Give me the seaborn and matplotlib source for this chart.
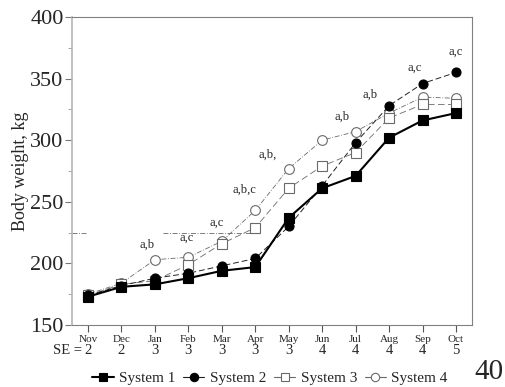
import matplotlib
matplotlib.use("Agg")
import matplotlib.pyplot as plt
from matplotlib.lines import Line2D
import seaborn as sns
import pandas as pd

# Data
months = ["Nov", "Dec", "Jan", "Feb", "Mar", "Apr", "May", "Jun", "Jul", "Aug", "Sep", "Oct"]
se_values = ["2", "2", "3", "3", "3", "3", "3", "4", "4", "4", "4", "5"]
system1 = [173, 181, 183, 188, 194, 197, 237, 261, 271, 302, 316, 322]
system2 = [174, 182, 188, 192, 198, 204, 230, 263, 298, 328, 346, 355]
system3 = [174, 183, 186, 199, 216, 229, 261, 279, 290, 318, 329, 329]
system4 = [175, 184, 203, 205, 218, 243, 277, 300, 307, 322, 335, 334]

# significance letters (text centre, in month-index / kg units)
ann_text = ["a,b", "a,c", "a,c", "a,b,c", "a,b,", "a,b", "a,b", "a,c", "a,c"]
ann_x = [1.77, 2.96, 3.86, 4.67, 5.36, 7.60, 8.44, 9.76, 10.99]
ann_y = [215, 221, 233, 260, 288, 319, 337, 359, 372]

# stray scan line in the original figure
stray_y = 225
stray_spans = [(-0.48, -0.05), (2.24, 5.1)]

sns.set_style("ticks")
plt.rcParams['font.family'] = ['Liberation Serif', 'DejaVu Serif']

df = pd.DataFrame({
    'idx': list(range(len(months))) * 4,
    'weight': system1 + system2 + system3 + system4,
    'system': (['System 1'] * 12 + ['System 2'] * 12 + ['System 3'] * 12 + ['System 4'] * 12),
})

styles = {
    'System 1': dict(color='black', lw=1.5, ls='-', marker='s', mfc='black', mec='black', ms=6.5),
    'System 2': dict(color='#222222', lw=0.7, ls=(0, (6, 3)), marker='o', mfc='black', mec='black', ms=6.5),
    'System 3': dict(color='#6a6a6a', lw=0.6, ls=(0, (8, 4)), marker='s', mfc='white', mec='#6a6a6a', ms=6.5),
    'System 4': dict(color='#6a6a6a', lw=0.6, ls=(0, (6, 2, 1, 2)), marker='o', mfc='white', mec='#6a6a6a', ms=7),
}

fig = plt.figure(figsize=(5.06, 3.87), dpi=100)
ax = fig.add_axes([72 / 506, 1 - 325 / 387, 400 / 506, 308 / 387])

for name in ['System 4', 'System 3', 'System 2', 'System 1']:
    st = styles[name]
    sub = df[df['system'] == name]
    sns.lineplot(data=sub, x='idx', y='weight', ax=ax, color=st['color'],
                 linewidth=st['lw'], linestyle=st['ls'], marker=st['marker'],
                 markerfacecolor=st['mfc'], markeredgecolor=st['mec'],
                 markersize=st['ms'], markeredgewidth=0.8, legend=False)

for x0, x1 in stray_spans:
    ax.hlines(stray_y, x0, x1, colors='#666666', linewidth=0.6, linestyles=(0, (6, 2, 1, 2)))

for t, x, y in zip(ann_text, ann_x, ann_y):
    ax.text(x, y, t, ha='center', va='center', fontsize=9)

ax.set_xlim(-0.48, 11.48)
ax.set_ylim(150, 400)
ax.set_yticks([150, 200, 250, 300, 350, 400])
ax.set_yticks([175, 225, 275, 325, 375], minor=True)
ax.set_xticks(range(len(months)))
ax.set_xticklabels(months, fontsize=8)
ax.tick_params(axis='y', labelsize=16, length=5, width=0.8, color='#777777', pad=1)
ax.tick_params(axis='y', which='minor', length=3, width=0.6, color='#999999')
ax.tick_params(axis='x', length=5, width=0.8, color='#555555', pad=2)
ax.set_xlabel('')
ax.set_ylabel('Body weight, kg', fontsize=13, labelpad=1)

for side in ['top', 'right', 'bottom']:
    ax.spines[side].set_color('#808080')
    ax.spines[side].set_linewidth(0.8)
ax.spines['left'].set_color('#b5b5b5')
ax.spines['left'].set_linewidth(1.2)

# SE row under month labels
for i, se in enumerate(se_values):
    ax.text(i, -0.082, se, transform=ax.get_xaxis_transform(), ha='center', va='center', fontsize=10.5)
ax.text(-0.17, -0.082, 'SE =', transform=ax.get_xaxis_transform(), ha='right', va='center', fontsize=10.5)

handles = [Line2D([], [], color=styles[n]['color'], lw=max(styles[n]['lw'], 0.8), ls='-',
                  marker=styles[n]['marker'], mfc=styles[n]['mfc'], mec=styles[n]['mec'],
                  ms=6, mew=0.8) for n in ['System 1', 'System 2', 'System 3', 'System 4']]
fig.legend(handles, ['System 1', 'System 2', 'System 3', 'System 4'], loc='center',
           bbox_to_anchor=(270 / 506, 1 - 378 / 387), ncol=4, frameon=False,
           fontsize=11, handlelength=1.4, handletextpad=0.35, columnspacing=0.5,
           borderpad=0, borderaxespad=0)

fig.text(489 / 506, 1 - 372 / 387, '40', ha='center', va='center', fontsize=21)

fig.savefig('out.png', dpi=100)
